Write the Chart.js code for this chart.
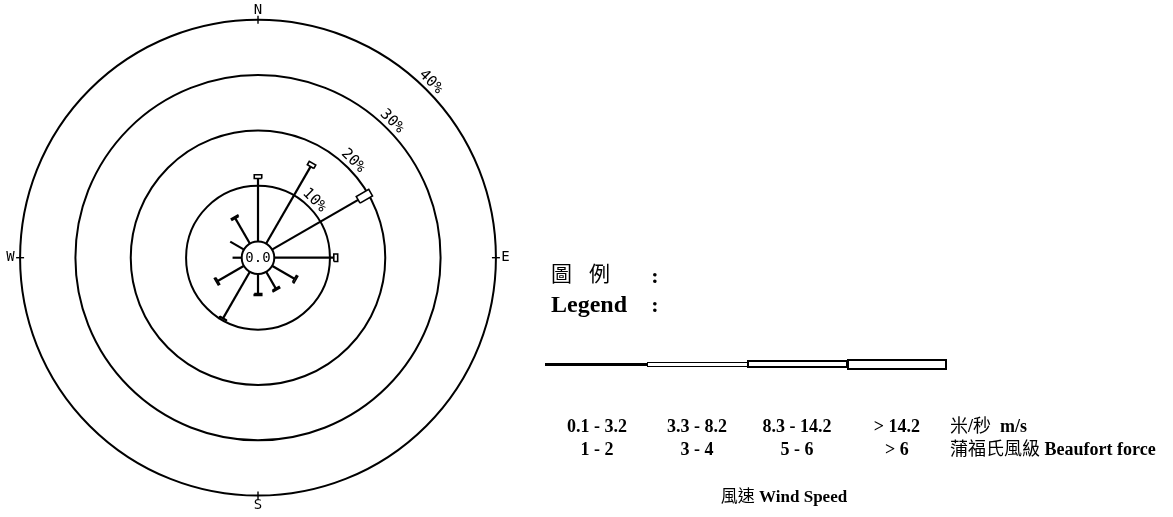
<!DOCTYPE html>
<html>
<head>
<meta charset="utf-8">
<script src="https://cdn.jsdelivr.net/npm/chart.js@4/dist/chart.umd.min.js"></script>
<style>
  html, body { margin: 0; padding: 0; background: #fff; }
  #wrap { position: relative; width: 1173px; height: 517px; overflow: hidden; background: #fff; }
  #rose { position: absolute; left: 0; top: 0; }
  .t { position: absolute; white-space: nowrap; color: #000; line-height: 1; }
  .serif { font-family: "Liberation Serif", "Times New Roman", serif; font-weight: bold; }
  .cjk { font-family: "Noto Sans CJK TC", "Noto Sans CJK SC", sans-serif; font-weight: normal; }
  .bl { display: inline-block; width: 0; height: 0; vertical-align: baseline; }
  .seg { position: absolute; box-sizing: border-box; }
</style>
</head>
<body>
<div id="wrap">
  <canvas id="rose" width="1173" height="517"></canvas>
  <div id="legend"></div>
</div>
<script>
// Wind direction sectors, degrees clockwise from north
const bearings = [0, 30, 60, 90, 120, 150, 180, 210, 240, 270, 300, 330];

// Percentage frequency of each speed band in each sector
const band1 = [11.3, 16.0, 17.9, 10.7, 4.6, 3.4, 3.5, 9.6, 5.4, 1.6, 2.8, 5.2]; // 0.1 - 3.2 m/s
const band2 = [0.7, 0.7, 2.6, 0.7, 0.3, 0.3, 0.3, 0.1, 0.3, 0.0, 0.0, 0.3];      // 3.3 - 8.2 m/s
const band3 = [0, 0, 0, 0, 0, 0, 0, 0, 0, 0, 0, 0];                              // 8.3 - 14.2 m/s
const band4 = [0, 0, 0, 0, 0, 0, 0, 0, 0, 0, 0, 0];                              // > 14.2 m/s
const calmPct = 0.0;

// Frequency rings and compass points
const ringPcts = [10, 20, 30, 40];
const ringLabels = ['10%', '20%', '30%', '40%'];
const compassLabels = ['N', 'E', 'S', 'W'];
const compassBearings = [0, 90, 180, 270];

// Legend texts
const speedRanges = ['0.1 - 3.2', '3.3 - 8.2', '8.3 - 14.2', '> 14.2'];
const beaufortRanges = ['1 - 2', '3 - 4', '5 - 6', '> 6'];

// ---- geometry of the plotting area ----
const canvasW = 1173;
const xMin = -46.63, xMax = 165.37, yMin = -46.86, yMax = 46.57;
const pxPerUnit = canvasW / (xMax - xMin);
const calmRadius = 3.0;                 // radius of the calm circle, in percent units
const bandWidthsPx = [0, 7.5, 10, 13];  // outline width of each band's bar

function polar(u, bearing, side) {
  const a = bearing * Math.PI / 180;
  return { x: u * Math.sin(a) + side * Math.cos(a), y: u * Math.cos(a) - side * Math.sin(a) };
}

const bands = [band1, band2, band3, band4];
const datasets = [];
bearings.forEach((b, i) => {
  let u = calmRadius;
  bands.forEach((band, j) => {
    const v = band[i];
    if (!v) return;
    const u1 = u + v;
    if (j === 0) {
      datasets.push({
        data: [polar(u, b, 0), polar(u1, b, 0)],
        borderColor: '#000', borderWidth: 2.2, fill: false
      });
    } else {
      const h = bandWidthsPx[j] / 2 / pxPerUnit;
      datasets.push({
        data: [polar(u, b, h), polar(u1, b, h), polar(u1, b, -h), polar(u, b, -h), polar(u, b, h)],
        borderColor: '#000', borderWidth: 1.6, backgroundColor: '#fff', fill: 'shape'
      });
    }
    u = u1;
  });
});

// Rings, compass marks and the calm circle
const roseFrame = {
  id: 'roseFrame',
  beforeDatasetsDraw(chart) {
    const { ctx, scales: { x, y } } = chart;
    const cx = x.getPixelForValue(0), cy = y.getPixelForValue(0);
    const unit = x.getPixelForValue(1) - cx;
    ctx.save();
    ctx.strokeStyle = '#000';
    ctx.fillStyle = '#000';
    ctx.lineWidth = 2;
    ringPcts.forEach(p => {
      ctx.beginPath();
      ctx.arc(cx, cy, (calmRadius + p) * unit, 0, Math.PI * 2);
      ctx.stroke();
    });
    const outer = (calmRadius + ringPcts[ringPcts.length - 1]) * unit;
    ctx.font = '14px "DejaVu Sans Mono"';
    ctx.textAlign = 'center';
    ctx.textBaseline = 'middle';
    ctx.lineWidth = 1.4;
    compassLabels.forEach((lab, i) => {
      const a = compassBearings[i] * Math.PI / 180;
      const sx = Math.sin(a), sy = -Math.cos(a);
      ctx.beginPath();
      ctx.moveTo(cx + sx * (outer - 4), cy + sy * (outer - 4));
      ctx.lineTo(cx + sx * (outer + 4), cy + sy * (outer + 4));
      ctx.stroke();
      ctx.fillText(lab, cx + sx * (outer + 9.5), cy + sy * (outer + 9.5));
    });
    ctx.font = '15px "DejaVu Sans Mono"';
    ringPcts.forEach((p, i) => {
      const r = (calmRadius + p) * unit + 8.5;
      const a = 44.5 * Math.PI / 180;
      ctx.save();
      ctx.translate(cx + Math.sin(a) * r, cy - Math.cos(a) * r);
      ctx.rotate(Math.PI / 4);
      ctx.fillText(ringLabels[i], 0, 0);
      ctx.restore();
    });
    ctx.restore();
  },
  afterDatasetsDraw(chart) {
    const { ctx, scales: { x, y } } = chart;
    const cx = x.getPixelForValue(0), cy = y.getPixelForValue(0);
    const unit = x.getPixelForValue(1) - cx;
    ctx.save();
    ctx.beginPath();
    ctx.arc(cx, cy, calmRadius * unit - 0.3, 0, Math.PI * 2);
    ctx.fillStyle = '#fff';
    ctx.fill();
    ctx.strokeStyle = '#000';
    ctx.lineWidth = 2;
    ctx.stroke();
    ctx.fillStyle = '#000';
    ctx.font = '14px "DejaVu Sans Mono"';
    ctx.textAlign = 'center';
    ctx.textBaseline = 'middle';
    ctx.fillText(calmPct.toFixed(1), cx, cy + 0.5);
    ctx.restore();
  }
};

new Chart(document.getElementById('rose'), {
  type: 'line',
  data: { datasets },
  options: {
    responsive: false,
    animation: false,
    devicePixelRatio: 1,
    events: [],
    layout: { padding: 0 },
    elements: {
      point: { radius: 0, hoverRadius: 0 },
      line: { tension: 0, borderJoinStyle: 'miter' }
    },
    scales: {
      x: { type: 'linear', min: xMin, max: xMax, display: false },
      y: { type: 'linear', min: yMin, max: yMax, display: false }
    },
    plugins: { legend: { display: false }, tooltip: { enabled: false } }
  },
  plugins: [roseFrame]
});

// ---- legend key ----
const legend = document.getElementById('legend');
const texts = [];
function addText(html, cls, size, x, base, align) {
  const d = document.createElement('div');
  d.className = 't ' + cls;
  d.style.fontSize = size + 'px';
  d.innerHTML = html + '<span class="bl"></span>';
  d.style.left = '0px';
  d.style.top = '0px';
  legend.appendChild(d);
  texts.push({ d, x, base, align });
}

addText('圖', 'cjk', 21, 551, 281, 'left');
addText('例', 'cjk', 21, 589, 281, 'left');
addText(':', 'serif', 22, 655, 283, 'center');
addText('Legend', 'serif', 24, 551, 312, 'left');
addText(':', 'serif', 22, 655, 312, 'center');

const colCenters = [597, 697, 797, 897];
speedRanges.forEach((s, i) => addText(s.replace('>', '&gt;'), 'serif', 18, colCenters[i], 432, 'center'));
beaufortRanges.forEach((s, i) => addText(s.replace('>', '&gt;'), 'serif', 18, colCenters[i], 455, 'center'));
addText('<span class="cjk">米</span>/<span class="cjk">秒</span>&nbsp; m/s', 'serif', 18, 950, 432, 'left');
addText('<span class="cjk">蒲福氏風級</span> Beaufort force', 'serif', 18, 950, 455, 'left');
addText('<span class="cjk">風速</span> Wind Speed', 'serif', 17, 784, 502, 'center');

// key bar: one piece per speed band
const segs = [
  { left: 545, top: 362.5, w: 102, h: 3, border: 0, bg: '#000' },
  { left: 647, top: 361.5, w: 101, h: 5, border: 1.5, bg: '#fff' },
  { left: 747, top: 360, w: 101, h: 8, border: 2, bg: '#fff' },
  { left: 847, top: 358.5, w: 100, h: 11, border: 2, bg: '#fff' }
];
segs.forEach(s => {
  const d = document.createElement('div');
  d.className = 'seg';
  Object.assign(d.style, {
    left: s.left + 'px', top: s.top + 'px', width: s.w + 'px', height: s.h + 'px',
    background: s.bg, border: s.border ? s.border + 'px solid #000' : 'none'
  });
  legend.appendChild(d);
});

// place each text by its baseline
const wrapTop = document.getElementById('wrap').getBoundingClientRect().top;
texts.forEach(({ d, x, base, align }) => {
  const mark = d.querySelector('.bl').getBoundingClientRect().top - wrapTop;
  d.style.top = (base - mark) + 'px';
  const w = d.getBoundingClientRect().width;
  d.style.left = (align === 'center' ? x - w / 2 : x) + 'px';
});
</script>
</body>
</html>
